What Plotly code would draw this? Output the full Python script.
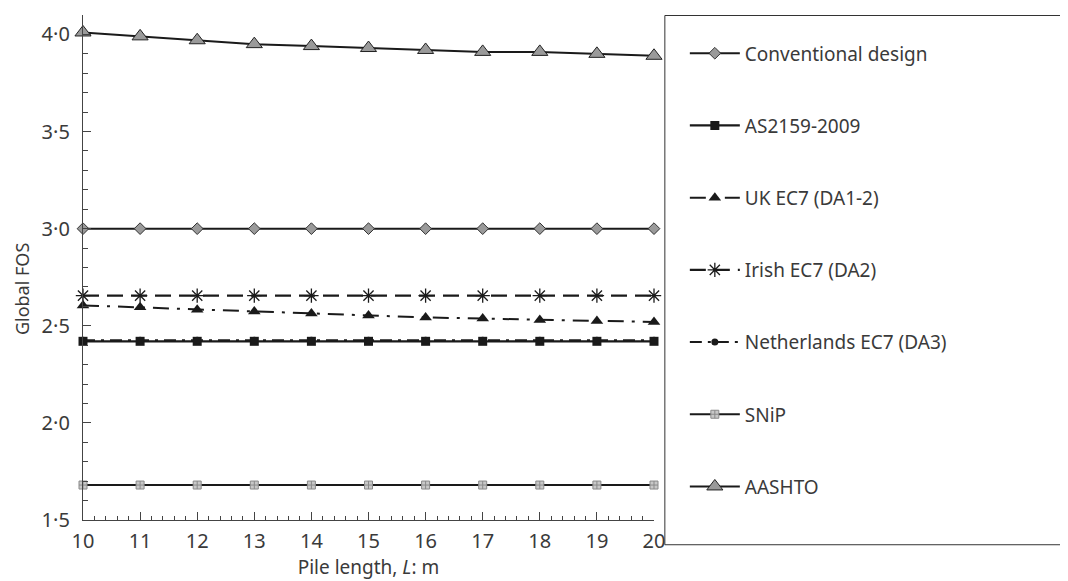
import plotly.graph_objects as go

pile_length = [10, 11, 12, 13, 14, 15, 16, 17, 18, 19, 20]
conventional = [3.0] * 11
as2159 = [2.42] * 11
uk_ec7 = [2.605, 2.595, 2.583, 2.573, 2.563, 2.553, 2.543, 2.537, 2.53, 2.525, 2.52]
irish_ec7 = [2.655] * 11
netherlands_ec7 = [2.425] * 11
snip = [1.68] * 11
aashto = [4.01, 3.99, 3.97, 3.95, 3.94, 3.93, 3.92, 3.91, 3.91, 3.90, 3.89]

y_tickvals = [1.5, 2.0, 2.5, 3.0, 3.5, 4.0]
y_ticktext = ["1·5", "2·0", "2·5", "3·0", "3·5", "4·0"]
x_tickvals = [10, 11, 12, 13, 14, 15, 16, 17, 18, 19, 20]

LC = "#1a1a1a"
series = [
    ("Conventional design", conventional, dict(dash="solid", width=2),
     dict(symbol="diamond", size=9, color="#9a9a9a", line=dict(color="#333", width=1))),
    ("AS2159-2009", as2159, dict(dash="solid", width=2.2),
     dict(symbol="square", size=9, color=LC, line=dict(color=LC, width=0))),
    ("UK EC7 (DA1-2)", uk_ec7, dict(dash="16px,8px,3px,8px", width=2),
     dict(symbol="triangle-up", size=11, color=LC, line=dict(color=LC, width=0))),
    ("Irish EC7 (DA2)", irish_ec7, dict(dash="16px,8px", width=2.4),
     dict(symbol="asterisk-open", size=12, color=LC, line=dict(color=LC, width=1.3))),
    ("Netherlands EC7 (DA3)", netherlands_ec7, dict(dash="12px,6px,3px,6px", width=2),
     dict(symbol="circle", size=7, color=LC, line=dict(color=LC, width=0))),
    ("SNiP", snip, dict(dash="solid", width=2),
     dict(symbol="square-cross", size=8, color="#c8c8c8", line=dict(color="#8a8a8a", width=1))),
    ("AASHTO", aashto, dict(dash="solid", width=2),
     dict(symbol="triangle-up", size=14, color="#9a9a9a", line=dict(color="#222", width=1))),
]

fig = go.Figure()
for i, (name, vals, line, marker) in enumerate(series):
    fig.add_trace(go.Scatter(
        x=pile_length, y=vals, name=name, mode="lines+markers",
        line=dict(color=LC, **line), marker=marker,
        legendgroup=f"g{i}", cliponaxis=False,
    ))

FONT = "Noto Sans"
TXT = "#3a3a3a"
fig.update_layout(
    width=1060, height=573,
    margin=dict(l=75, r=414, t=6.5, b=59),
    paper_bgcolor="white", plot_bgcolor="white",
    font=dict(family=FONT, color=TXT, size=19),
    showlegend=True,
    legend=dict(
        x=1.054, y=0.9616, xanchor="left", yanchor="top",
        tracegroupgap=44.5, font=dict(size=19, color=TXT),
        bgcolor="rgba(0,0,0,0)", borderwidth=0, itemwidth=50,
    ),
    xaxis=dict(
        range=[10, 20], tickvals=x_tickvals, ticks="inside", ticklen=8,
        tickwidth=1, tickcolor="#444", showline=True, linecolor="#444", linewidth=1.3,
        showgrid=False, zeroline=False, tickfont=dict(size=20, color=TXT),
        ticklabelstandoff=3,
        minor=dict(dtick=0.2, ticks="inside", ticklen=4, tickcolor="#444", showgrid=False),
        title=dict(text="Pile length, <i>L</i>: m", font=dict(size=19, color=TXT), standoff=7),
    ),
    yaxis=dict(
        range=[1.5, 4.1], tickvals=y_tickvals, ticktext=y_ticktext, ticks="inside",
        ticklen=8, tickwidth=1, tickcolor="#444", showline=True, linecolor="#444",
        linewidth=1.3, showgrid=False, zeroline=False, tickfont=dict(size=20, color=TXT),
        ticklabelstandoff=8,
        minor=dict(dtick=0.1, ticks="inside", ticklen=5, tickcolor="#444", showgrid=False),
    ),
)
fig.add_annotation(text="Global FOS", textangle=-90, xref="paper", yref="paper",
                   x=-0.107, y=0.459, xanchor="center", yanchor="middle",
                   showarrow=False, font=dict(size=18, color=TXT))
fig.add_shape(type="rect", xref="paper", yref="paper",
              x0=1.019, x1=1.74, y0=-0.049, y1=0.999,
              line=dict(color="#333", width=1), fillcolor="rgba(0,0,0,0)", layer="below")

fig.write_html("out.html")
